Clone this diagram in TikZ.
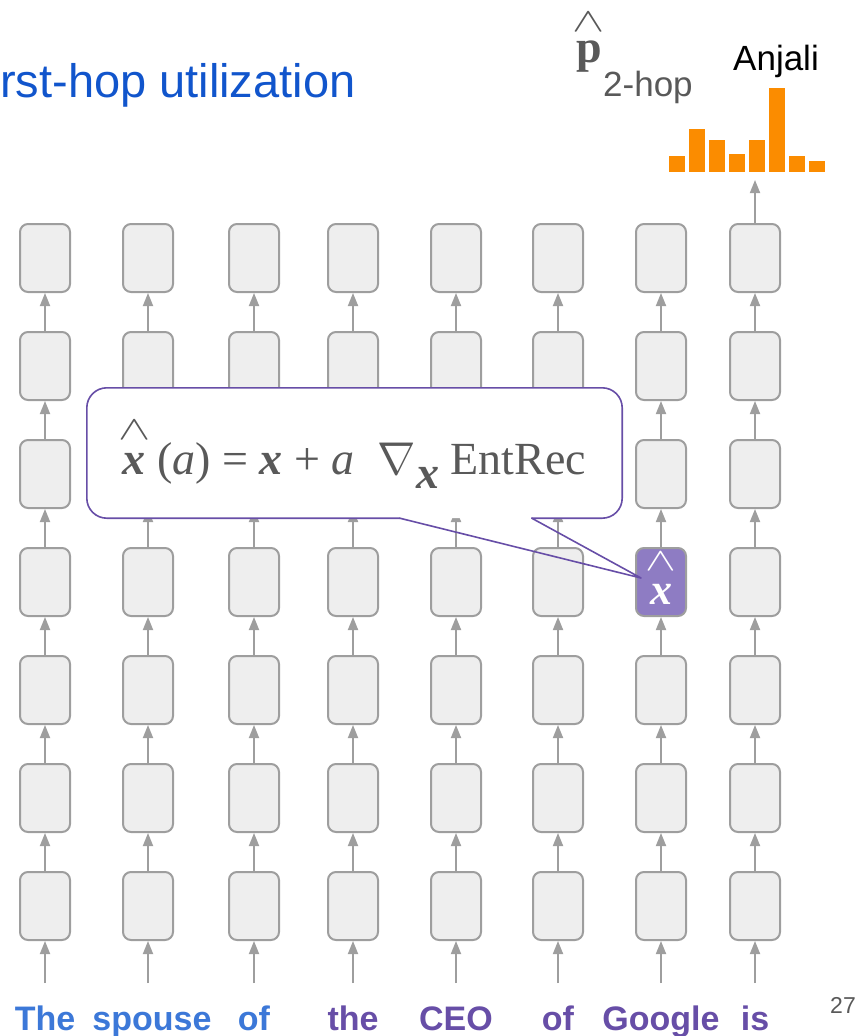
\RequirePackage{fix-cm}
\documentclass[tikz,border=0pt]{standalone}
\usepackage{amsmath}
\usepackage{fontspec}
\setmainfont{Liberation Sans}
\newfontfamily\serif{Liberation Serif}
\usetikzlibrary{arrows.meta,positioning}
\definecolor{cellgray}{RGB}{238,238,238}
\definecolor{linegray}{RGB}{158,158,158}
\definecolor{titleblue}{RGB}{17,85,204}
\definecolor{wordblue}{RGB}{60,120,216}
\definecolor{wordpurple}{RGB}{103,78,167}
\definecolor{hilite}{RGB}{142,124,195}
\definecolor{textgray}{RGB}{89,89,89}
\definecolor{barorange}{RGB}{251,140,0}
\definecolor{calloutline}{RGB}{103,78,167}
\newcommand\hatted[2][0.5em]{\ensuremath{\overset{\makebox[0pt]{\scalebox{1.5}[1.05]{$\scriptstyle\wedge$}}}{\text{#2}\rule{0pt}{#1}}}}

\begin{document}
\begin{tikzpicture}[x=1pt,y=-1pt,
    cell/.style={rectangle,draw=linegray,line width=2pt,rounded corners=8pt,fill=cellgray,
                 minimum width=50pt,minimum height=68pt,inner sep=0pt},
    arrow/.style={-{Triangle[length=13pt,width=10pt]},draw=linegray,line width=1.8pt},
    word/.style={anchor=base,inner sep=0pt,font=\fontsize{34}{40}\selectfont\bfseries},
    label/.style={anchor=base,inner sep=0pt,font=\fontsize{35}{40}\selectfont},
    callout/.style={rectangle,rounded corners=20pt,fill=white,minimum width=535pt,
                    minimum height=130pt,inner sep=0pt},
    pointer/.style={draw=calloutline,line width=1.6pt,line cap=round,line join=round},
    bar/.style={fill=barorange}
]
\useasboundingbox (0,0) rectangle (862,1036);

\node[anchor=base west,inner sep=0pt,text=titleblue,font=\fontsize{47}{52}\selectfont]
    (title) at (0,97) {rst-hop utilization};

\foreach \c/\x in {1/45,2/148,3/254,4/353,5/456,6/558,7/661,8/755}{
    \foreach \r/\y in {1/258,2/366,3/474,4/582,5/690,6/798,7/906}{
        \ifnum\c\r=74 \else \node[cell] (b-\c-\r) at (\x,\y) {}; \fi
    }
    \coordinate (in-\c) at (\x,983);
}
\node[cell,fill=hilite,text=white,font=\serif\fontsize{44}{44}\selectfont] (b-7-4) at (661,582)
    {\raisebox{9pt}{\hatted[0.66em]{\bfseries\itshape x}}};

\foreach \c in {1,...,8}{
    \foreach \r [evaluate=\r as \s using int(\r+1)] in {1,...,6}{
        \draw[arrow] (b-\c-\s.north) -- (b-\c-\r.south);
    }
    \draw[arrow] (in-\c) -- (b-\c-7.south);
}

\node[word,text=wordblue] (w-1) at (45,1030) {The};
\node[word,text=wordblue] (w-2) at (152,1030) {spouse};
\node[word,text=wordblue] (w-3) at (254,1030) {of};
\node[word,text=wordpurple] (w-4) at (353,1030) {the};
\node[word,text=wordpurple] (w-5) at (456,1030) {CEO};
\node[word,text=wordpurple] (w-6) at (558,1030) {of};
\node[word,text=wordpurple] (w-7) at (661,1030) {Google};
\node[word,text=wordpurple] (w-8) at (755,1030) {is};

\node[anchor=base east,inner sep=0pt,text=textgray,font=\fontsize{23}{26}\selectfont]
    (page) at (856,1013) {27};

\foreach \i/\h in {0/156,1/129,2/140,3/154,4/140,5/88,6/156,7/161}
    \fill[bar] ({669+20*\i},172) rectangle ({685+20*\i},\h);
\coordinate (hist) at (755,180);
\draw[arrow] (b-8-1.north) -- (hist);

\node[label] (anjali) at (776,70) {Anjali};
\node[anchor=base west,inner sep=0pt,text=textgray,font=\serif\fontsize{46}{50}\selectfont]
    (phat) at (576,62) {\hatted[0.55em]{\bfseries p}};
\node[label,anchor=base west,text=textgray] (hop) at ([xshift=1pt,yshift=-34pt]phat.base east) {2-hop};

\node[callout] (callout) at (354.5,453) {\serif\color{textgray}\fontsize{46}{52}\selectfont
    \hatted[0.66em]{\bfseries\itshape x}\ (\textit{a}) = \textbf{\textit{x}} + \textit{a}\ \ $\nabla$\raisebox{-0.3em}{\bfseries\itshape x}
    EntRec};
\coordinate (tip) at ([xshift=6pt,yshift=4pt]b-7-4.west);
\draw[pointer,rounded corners=20pt] ([xshift=313pt]callout.south west) -- (callout.south west)
    -- (callout.north west) -- (callout.north east) -- (callout.south east)
    -- ([xshift=445pt]callout.south west);
\draw[pointer] ([xshift=313pt]callout.south west) -- (tip) -- ([xshift=445pt]callout.south west);
\end{tikzpicture}
\end{document}
